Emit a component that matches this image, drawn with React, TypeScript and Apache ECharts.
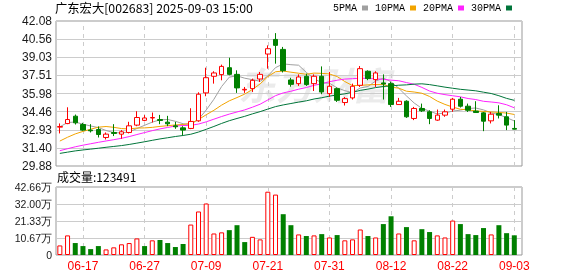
import React, { useEffect, useRef } from 'react';
import * as echarts from 'echarts';

const titleText = '广东宏大[002683] 2025-09-03 15:00';

const dates = [
  '06-12', '06-13', '06-16', '06-17', '06-18', '06-19', '06-20', '06-23', '06-24', '06-25', '06-26', '06-27', '06-30',
  '07-01', '07-02', '07-03', '07-04', '07-07', '07-08', '07-09', '07-10', '07-11', '07-14', '07-15', '07-16', '07-17',
  '07-18', '07-21', '07-22', '07-23', '07-24', '07-25', '07-28', '07-29', '07-30', '07-31',
  '08-01', '08-04', '08-05', '08-06', '08-07', '08-08', '08-11', '08-12', '08-13', '08-14', '08-15', '08-18', '08-19',
  '08-20', '08-21', '08-22', '08-25', '08-26', '08-27', '08-28', '08-29',
  '09-01', '09-02', '09-03',
];

const labelIdx = [3, 11, 19, 27, 35, 43, 51, 59];

const opens = [
  33.15, 33.45, 34.07, 33.37, 32.90, 32.95, 32.28, 32.70, 32.56, 32.70,
  33.32, 33.72, 33.92, 33.79, 33.57, 33.26, 33.09, 33.04, 33.68, 36.03,
  37.43, 37.57, 38.15, 37.59, 36.28, 36.39, 37.20, 39.30, 40.53, 39.69,
  37.12, 36.81, 37.43, 36.81, 37.43, 35.97, 36.39, 35.22, 35.61, 36.67,
  37.85, 37.15, 36.87, 36.81, 35.05, 35.33, 33.88, 34.72, 34.44, 33.74,
  34.16, 34.66, 35.50, 34.91, 34.50, 34.35, 33.68, 34.30, 34.02, 33.04,
];
const closes = [
  33.20, 33.79, 33.51, 32.90, 32.84, 32.53, 32.56, 32.62, 32.76, 33.26,
  33.96, 33.92, 33.96, 33.71, 33.43, 33.18, 32.90, 33.63, 35.92, 37.31,
  37.71, 38.26, 37.59, 36.45, 36.33, 37.09, 37.59, 39.75, 40.03, 37.90,
  36.75, 37.37, 36.73, 37.43, 36.11, 36.59, 35.41, 35.55, 36.59, 38.07,
  37.23, 37.71, 36.78, 35.05, 35.33, 34.02, 34.72, 34.52, 33.88, 34.16,
  34.44, 35.50, 34.91, 34.57, 34.38, 33.65, 34.24, 34.16, 33.32, 32.98,
];
const lows = [
  32.62, 33.40, 33.37, 32.84, 32.70, 32.28, 32.11, 32.40, 32.17, 32.62,
  33.23, 33.65, 33.54, 33.40, 33.23, 33.01, 32.48, 32.98, 33.60, 35.75,
  36.81, 37.09, 37.51, 36.03, 36.03, 36.11, 36.95, 38.07, 38.49, 37.75,
  36.55, 36.62, 36.62, 36.19, 35.92, 35.69, 35.27, 34.97, 35.47, 36.53,
  37.10, 36.53, 35.47, 34.85, 35.05, 33.93, 33.74, 34.43, 33.40, 33.68,
  34.02, 34.44, 34.80, 34.43, 34.35, 32.81, 33.46, 33.88, 32.90, 32.95,
];
const highs = [
  33.46, 34.82, 34.21, 33.51, 33.40, 33.21, 32.70, 33.40, 32.90, 33.60,
  34.49, 34.16, 34.38, 34.18, 34.10, 33.60, 33.23, 34.74, 36.08, 38.15,
  37.85, 38.41, 38.99, 37.93, 36.53, 37.23, 37.79, 40.03, 41.06, 39.90,
  37.30, 37.59, 37.65, 37.59, 38.26, 37.79, 36.48, 35.69, 36.81, 38.29,
  37.93, 37.85, 37.59, 36.95, 35.61, 35.41, 34.85, 35.13, 34.57, 34.63,
  34.63, 35.61, 35.69, 35.13, 35.33, 34.43, 34.43, 34.99, 34.43, 33.74,
];

// closes of the 29 sessions before the window (used for the moving averages)
const priorCloses = [
  30.6, 30.4, 30.5, 30.7, 30.3, 30.2, 30.5, 30.6, 30.4, 30.6,
  30.5, 30.3, 30.2, 30.4, 30.1, 30.3, 30.5, 30.4, 30.4, 30.5,
  30.6, 30.7, 30.8, 31.0, 30.8,
  32.0, 33.3, 33.8, 33.6,
];

// volume in 万 (10,000 shares)
const volumesWan = [
  6.0, 12.3, 7.5, 5.6, 3.7, 5.6, 3.5, 4.8, 6.7, 7.5,
  10.4, 5.6, 9.2, 9.4, 7.5, 5.0, 6.9, 19.1, 27.3, 32.3,
  13.5, 14.2, 15.6, 18.7, 8.1, 11.4, 9.8, 39.7, 37.9, 25.6,
  18.7, 12.9, 11.9, 12.3, 13.1, 11.0, 12.5, 9.2, 9.8, 16.0,
  11.9, 11.0, 19.4, 24.3, 13.5, 17.5, 9.2, 16.2, 14.4, 12.3,
  11.0, 21.6, 19.4, 13.1, 12.5, 16.9, 12.9, 18.7, 13.7, 12.3491,
];

const priceTickLabels = ['29.88', '31.40', '32.93', '34.46', '35.98', '37.51', '39.03', '40.56', '42.08'];
const volTickLabels = ['0', '10.67万', '21.33万', '32.00万', '42.66万'];

const maNames = ['5PMA', '10PMA', '20PMA', '30PMA'];
const maPeriods = [5, 10, 20, 30];
const maColors = ['#a0a0a0', '#f2a400', '#ff22ff', '#00753a'];

const PRICE_MIN = 29.88;
const PRICE_MAX = 42.08;
const PRICE_STEP = 1.525;
const VOL_MAX = 42.66;
const VOL_STEP = 10.665;

const RED = '#ff0000';
const GREEN = '#008000';

function movingAverage(n: number) {
  const all = priorCloses.concat(closes);
  return closes.map((_, i) => {
    const end = priorCloses.length + i;
    let s = 0;
    for (let k = end - n + 1; k <= end; k++) s += all[k];
    return [i, +(s / n).toFixed(3)];
  });
}

export default function App() {
  const ref = useRef<HTMLDivElement>(null);
  useEffect(() => {
    if (!ref.current) return;
    const chart = echarts.init(ref.current, undefined, { renderer: 'svg' });
    const n = dates.length;

    const candleData = opens.map((o, i) => [i, o, closes[i], lows[i], highs[i]]);
    const volData = volumesWan.map((v, i) => {
      const up = i === 0 ? closes[i] >= opens[i] : closes[i] >= closes[i - 1];
      return {
        value: [i, v],
        itemStyle: up
          ? { color: '#ffffff', borderColor: RED, borderWidth: 1 }
          : { color: GREEN, borderColor: GREEN, borderWidth: 0 },
      };
    });

    const dashedMarkLine = {
      silent: true,
      z: 0,
      symbol: ['none', 'none'],
      label: { show: false },
      lineStyle: { color: '#cccccc', type: [4, 4], width: 1 },
      emphasis: { disabled: true },
      data: labelIdx.map((i) => ({ xAxis: i })),
    };

    const xCommon = {
      type: 'value' as const,
      min: -0.5,
      max: n,
      axisLine: { show: false },
      axisTick: { show: false },
      splitLine: { show: false },
    };

    chart.setOption({
      animation: false,
      textStyle: { fontFamily: 'Liberation Sans' },
      title: [
        {
          text: titleText,
          left: 55,
          top: 2,
          padding: 0,
          textStyle: { fontSize: 12.3, fontWeight: 'normal', color: '#000', fontFamily: 'Noto Sans CJK SC' },
        },
        {
          text: '成交量:' + Math.round(volumesWan[n - 1] * 10000),
          left: 57,
          top: 170,
          padding: 0,
          textStyle: { fontSize: 12, fontWeight: 'normal', color: '#000', fontFamily: 'Noto Sans CJK SC' },
        },
      ],
      legend: {
        data: maNames,
        right: 66,
        top: 3,
        padding: 0,
        align: 'right',
        icon: 'rect',
        itemWidth: 6,
        itemHeight: 5,
        itemGap: 7,
        textStyle: { fontSize: 10, color: '#000', fontFamily: 'Liberation Mono' },
      },
      graphic: [
        {
          type: 'text',
          left: 238,
          top: 64,
          z: -1,
          silent: true,
          style: {
            text: '东方财富',
            fontSize: 38,
            fontWeight: 'bold',
            fontStyle: 'italic',
            fontFamily: 'Noto Sans CJK SC',
            fill: 'rgba(0,0,0,0.08)',
          },
        },
      ],
      grid: [
        { left: 56, right: 56, top: 21, height: 145, show: true, borderColor: '#999999', borderWidth: 1 },
        { left: 56, right: 56, top: 187, height: 68, show: true, borderColor: '#999999', borderWidth: 1 },
      ],
      xAxis: [
        {
          ...xCommon,
          gridIndex: 0,
          axisLabel: { show: false },
        },
        {
          ...xCommon,
          gridIndex: 1,
          axisLabel: {
            show: true,
            customValues: labelIdx,
            formatter: (v: number) => dates[Math.round(v)] ?? '',
            color: RED,
            fontSize: 12,
            margin: 5,
            fontFamily: 'Liberation Sans',
          },
        },
      ],
      yAxis: [
        {
          type: 'value',
          gridIndex: 0,
          min: PRICE_MIN,
          max: PRICE_MAX,
          interval: PRICE_STEP,
          axisLine: { show: false },
          axisTick: { show: false },
          axisLabel: {
            formatter: (v: number) => priceTickLabels[Math.round((v - PRICE_MIN) / PRICE_STEP)] ?? '',
            color: '#1a1a1a',
            fontSize: 12,
            margin: 4,
            fontFamily: 'Liberation Sans',
          },
          splitLine: { show: true, lineStyle: { color: '#cccccc', width: 1 } },
        },
        {
          type: 'value',
          gridIndex: 1,
          min: 0,
          max: VOL_MAX,
          interval: VOL_STEP,
          axisLine: { show: false },
          axisTick: { show: false },
          axisLabel: {
            formatter: (v: number) => volTickLabels[Math.round(v / VOL_STEP)] ?? '',
            color: '#1a1a1a',
            fontSize: 10.5,
            margin: 4,
            fontFamily: 'Liberation Sans',
          },
          splitLine: { show: true, lineStyle: { color: '#cccccc', width: 1 } },
        },
      ],
      series: [
        {
          name: 'gridV1',
          type: 'line',
          xAxisIndex: 0,
          yAxisIndex: 0,
          data: [],
          z: 0,
          markLine: dashedMarkLine,
        },
        {
          name: 'gridV2',
          type: 'line',
          xAxisIndex: 1,
          yAxisIndex: 1,
          data: [],
          z: 0,
          markLine: dashedMarkLine,
        },
        ...maNames.map((name, k) => ({
          name,
          type: 'line',
          xAxisIndex: 0,
          yAxisIndex: 0,
          data: movingAverage(maPeriods[k]),
          showSymbol: false,
          symbol: 'none',
          lineStyle: { width: 1, color: maColors[k] },
          itemStyle: { color: maColors[k] },
          z: 2,
        })),
        {
          name: 'K',
          type: 'candlestick',
          xAxisIndex: 0,
          yAxisIndex: 0,
          data: candleData,
          barWidth: 5,
          z: 3,
          itemStyle: {
            color: '#ffffff',
            color0: GREEN,
            borderColor: RED,
            borderColor0: GREEN,
            borderWidth: 1,
          },
        },
        {
          name: 'VOL',
          type: 'bar',
          xAxisIndex: 1,
          yAxisIndex: 1,
          barWidth: 5,
          z: 3,
          data: volData,
        },
      ],
    } as any);
    return () => chart.dispose();
  }, []);
  return <div ref={ref} style={{ position: 'fixed', left: 0, top: 0, width: 578, height: 276 }} />;
}
